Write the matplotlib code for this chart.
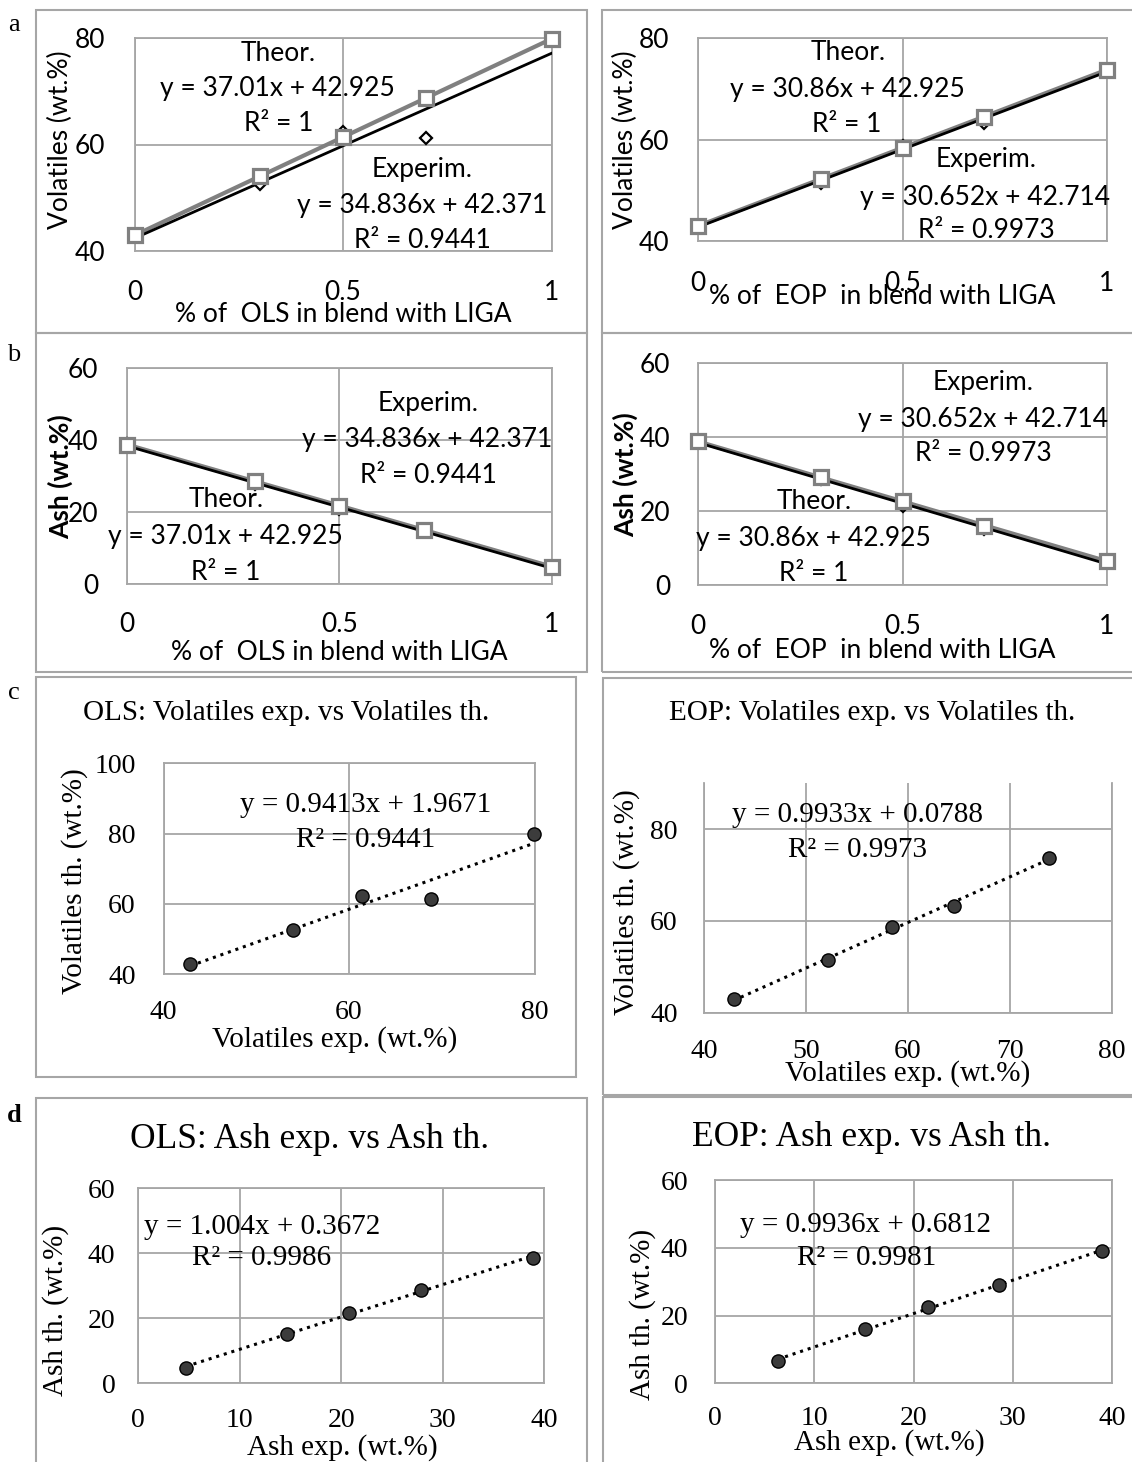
import numpy as np
import matplotlib
matplotlib.use("Agg")
import matplotlib.pyplot as plt
from matplotlib.patches import Rectangle

# blend fraction of OLS / EOP mixed into LIGA
blend = [0, 0.3, 0.5, 0.7, 1]

# volatiles (wt.%): theoretical (squares) and experimental (diamonds)
ols_vol_theor = [42.9, 54.0, 61.4, 68.8, 79.9]
ols_vol_exper = [42.9, 52.5, 62.3, 61.3, 79.8]
eop_vol_theor = [42.9, 52.2, 58.4, 64.5, 73.8]
eop_vol_exper = [42.9, 51.5, 58.7, 63.3, 73.8]

# ash (wt.%)
ols_ash_theor = [38.7, 28.7, 21.7, 15.1, 4.8]
ols_ash_exper = [38.9, 27.8, 20.8, 14.7, 4.7]
eop_ash_theor = [38.9, 29.1, 22.6, 16.1, 6.5]
eop_ash_exper = [39.0, 28.6, 21.5, 15.1, 6.3]

SANS = "Lato"
SERIF = "Liberation Serif"
GRID = "#a6a6a6"
LINEGREY = "#808080"
FS_SANS = 19      # text size in the blend panels
FS_SERIF = 21     # text size in the parity panels

W, H = 1132, 1462
fig = plt.figure(figsize=(W / 100, H / 100), dpi=100)


def px_axes(x0, x1, y0, y1):
    """axes placed by pixel box (y measured from the top)"""
    return fig.add_axes([x0 / W, 1 - y1 / H, (x1 - x0) / W, (y1 - y0) / H])


def frame(x0, y0, x1, y1):
    fig.add_artist(Rectangle((x0 / W, 1 - y1 / H), (x1 - x0) / W, (y1 - y0) / H,
                             transform=fig.transFigure, fill=False, ec=GRID, lw=1.5))


def ftext(x, y, s, **kw):
    fig.text(x / W, 1 - y / H, s, ha="center", va="center", **kw)


def style(ax, xlim, ylim, xticks, xlabels, yticks, family, size, xpad, ypad, top=True):
    ax.set_xlim(xlim)
    ax.set_ylim(ylim)
    ax.set_xticks(xticks)
    ax.set_xticklabels(xlabels, family=family, fontsize=size)
    ax.set_yticks(yticks)
    ax.set_yticklabels([str(t) for t in yticks], family=family, fontsize=size)
    ax.grid(color=GRID, lw=1.3)
    ax.set_axisbelow(True)
    for s in ax.spines.values():
        s.set_color(GRID)
        s.set_linewidth(1.3)
    ax.spines["top"].set_visible(top)
    ax.tick_params(axis="x", length=0, pad=xpad)
    ax.tick_params(axis="y", length=0, pad=ypad)


def blend_panel(ax, theor, exper):
    # straight-line trend for each series over the whole blend range
    xx = np.array([0.0, 1.0])
    pt = np.polyfit(blend, theor, 1)
    pe = np.polyfit(blend, exper, 1)
    ax.plot(xx, np.polyval(pt, xx), color=LINEGREY, lw=3.0, zorder=2)
    ax.plot(xx, np.polyval(pe, xx), color="black", lw=2.0, zorder=3)
    ax.plot(blend, exper, ls="none", marker="D", ms=6.5, mfc="white", mec="black",
            mew=1.6, zorder=4, clip_on=False)
    ax.plot(blend, theor, ls="none", marker="s", ms=10, mfc="white", mec=LINEGREY,
            mew=2.3, zorder=5, clip_on=False)


def scatter_panel(ax, x, y):
    p = np.polyfit(x, y, 1)
    xx = np.array([min(x), max(x)])
    ax.plot(xx, np.polyval(p, xx), color="black", lw=2.2, ls=(0, (1, 1.6)), zorder=3)
    ax.plot(x, y, ls="none", marker="o", ms=9.5, mfc="#3c3c3c", mec="black", mew=1,
            zorder=4, clip_on=False)


def eq(ax, x, y, s, family=SANS, size=FS_SANS):
    ax.text(x, y, s, ha="center", va="center", family=family, fontsize=size, zorder=6)


# panel borders
frame(36, 10, 587, 333)
frame(602, 10, 1145, 333)
frame(36, 333, 587, 672)
frame(602, 333, 1145, 672)
frame(36, 677, 576, 1077)
frame(603, 678, 1145, 1095)
frame(36, 1098, 587, 1475)
frame(603, 1097, 1145, 1475)

# panel letters
for lab, yy, wt in [("a", 25, "normal"), ("b", 355, "normal"),
                    ("c", 693, "normal"), ("d", 1115, "bold")]:
    ftext(14, yy, lab, family=SERIF, fontsize=19, fontweight=wt)

# ---- a: volatiles vs blend fraction
ax = px_axes(134.5, 551.6, 38.3, 250.7)
style(ax, (0, 1), (40, 80), [0, 0.5, 1], ["0", "0.5", "1"], [40, 60, 80], SANS, FS_SANS, 21, 21)
blend_panel(ax, ols_vol_theor, ols_vol_exper)
eq(ax, 0.345, 77.2, "Theor.")
eq(ax, 0.342, 70.6, "y = 37.01x + 42.925")
eq(ax, 0.345, 64.0, "R² = 1")
eq(ax, 0.689, 55.2, "Experim.")
eq(ax, 0.69, 48.6, "y = 34.836x + 42.371")
eq(ax, 0.69, 42.0, "R² = 0.9441")
ftext(343, 315, "% of  OLS in blend with LIGA", family=SANS, fontsize=FS_SANS)
ftext(60, 140, "Volatiles (wt.%)", family=SANS, fontsize=FS_SANS, rotation=90)

ax = px_axes(698, 1107, 38.3, 240.7)
style(ax, (0, 1), (40, 80), [0, 0.5, 1], ["0", "0.5", "1"], [40, 60, 80], SANS, FS_SANS, 22, 21)
blend_panel(ax, eop_vol_theor, eop_vol_exper)
eq(ax, 0.366, 77.1, "Theor.")
eq(ax, 0.364, 69.8, "y = 30.86x + 42.925")
eq(ax, 0.364, 62.9, "R² = 1")
eq(ax, 0.705, 56.0, "Experim.")
eq(ax, 0.703, 48.6, "y = 30.652x + 42.714")
eq(ax, 0.705, 42.1, "R² = 0.9973")
ftext(882, 297, "% of  EOP  in blend with LIGA", family=SANS, fontsize=FS_SANS)
ftext(625, 140, "Volatiles (wt.%)", family=SANS, fontsize=FS_SANS, rotation=90)

# ---- b: ash vs blend fraction
ax = px_axes(127.3, 551.6, 368.3, 584)
style(ax, (0, 1), (0, 60), [0, 0.5, 1], ["0", "0.5", "1"], [0, 20, 40, 60], SANS, FS_SANS, 20.5, 21)
blend_panel(ax, ols_ash_theor, ols_ash_exper)
eq(ax, 0.709, 50.3, "Experim.")
eq(ax, 0.707, 40.1, "y = 34.836x + 42.371")
eq(ax, 0.709, 30.3, "R² = 0.9441")
eq(ax, 0.233, 23.4, "Theor.")
eq(ax, 0.231, 13.1, "y = 37.01x + 42.925")
eq(ax, 0.233, 3.1, "R² = 1")
ftext(339, 652, "% of  OLS in blend with LIGA", family=SANS, fontsize=FS_SANS)
ftext(60, 477, "Ash (wt.%)", family=SANS, fontsize=FS_SANS, rotation=90, fontweight="bold")

ax = px_axes(698, 1107, 363.3, 585)
style(ax, (0, 1), (0, 60), [0, 0.5, 1], ["0", "0.5", "1"], [0, 20, 40, 60], SANS, FS_SANS, 21, 20)
blend_panel(ax, eop_ash_theor, eop_ash_exper)
eq(ax, 0.697, 54.7, "Experim.")
eq(ax, 0.697, 44.7, "y = 30.652x + 42.714")
eq(ax, 0.697, 35.7, "R² = 0.9973")
eq(ax, 0.284, 22.5, "Theor.")
eq(ax, 0.283, 12.7, "y = 30.86x + 42.925")
eq(ax, 0.283, 3.2, "R² = 1")
ftext(882, 650, "% of  EOP  in blend with LIGA", family=SANS, fontsize=FS_SANS)
ftext(625, 475, "Ash (wt.%)", family=SANS, fontsize=FS_SANS, rotation=90, fontweight="bold")

# ---- c: volatiles, parity plots
ax = px_axes(163.6, 534.5, 763.3, 974)
style(ax, (40, 80), (40, 100), [40, 60, 80], ["40", "60", "80"], [40, 60, 80, 100],
      SERIF, 20, 19, 20)
scatter_panel(ax, ols_vol_theor, ols_vol_exper)
eq(ax, 61.8, 88.1, "y = 0.9413x + 1.9671", SERIF, FS_SERIF)
eq(ax, 61.8, 78.2, "R² = 0.9441", SERIF, FS_SERIF)
ftext(286, 713, "OLS: Volatiles exp. vs Volatiles th.", family=SERIF, fontsize=FS_SERIF)
ftext(335, 1040, "Volatiles exp. (wt.%)", family=SERIF, fontsize=FS_SERIF)
ftext(75, 881, "Volatiles th. (wt.%)", family=SERIF, fontsize=FS_SERIF, rotation=90)

ax = px_axes(704, 1112, 783.3, 1012.7)
style(ax, (40, 80), (40, 90), [40, 50, 60, 70, 80], ["40", "50", "60", "70", "80"],
      [40, 60, 80], SERIF, 20, 19, 19, top=False)
scatter_panel(ax, eop_vol_theor, eop_vol_exper)
eq(ax, 55.0, 83.1, "y = 0.9933x + 0.0788", SERIF, FS_SERIF)
eq(ax, 55.0, 75.5, "R² = 0.9973", SERIF, FS_SERIF)
ftext(872, 713, "EOP: Volatiles exp. vs Volatiles th.", family=SERIF, fontsize=FS_SERIF)
ftext(908, 1074, "Volatiles exp. (wt.%)", family=SERIF, fontsize=FS_SERIF)
ftext(627, 902, "Volatiles th. (wt.%)", family=SERIF, fontsize=FS_SERIF, rotation=90)

# ---- d: ash, parity plots
ax = px_axes(138.2, 544.4, 1188.3, 1383.3)
style(ax, (0, 40), (0, 60), [0, 10, 20, 30, 40], ["0", "10", "20", "30", "40"],
      [0, 20, 40, 60], SERIF, 20, 18, 16.5)
scatter_panel(ax, ols_ash_exper, ols_ash_theor)
eq(ax, 12.2, 48.2, "y = 1.004x + 0.3672", SERIF, FS_SERIF)
eq(ax, 12.1, 38.5, "R² = 0.9986", SERIF, FS_SERIF)
ftext(310, 1140, "OLS: Ash exp. vs Ash th.", family=SERIF, fontsize=25.5)
ftext(342, 1448, "Ash exp. (wt.%)", family=SERIF, fontsize=FS_SERIF)
ftext(56, 1310, "Ash th. (wt.%)", family=SERIF, fontsize=FS_SERIF, rotation=90)

ax = px_axes(715, 1112, 1180, 1383.3)
style(ax, (0, 40), (0, 60), [0, 10, 20, 30, 40], ["0", "10", "20", "30", "40"],
      [0, 20, 40, 60], SERIF, 20, 16, 19.5)
scatter_panel(ax, eop_ash_exper, eop_ash_theor)
eq(ax, 15.2, 46.7, "y = 0.9936x + 0.6812", SERIF, FS_SERIF)
eq(ax, 15.3, 37.0, "R² = 0.9981", SERIF, FS_SERIF)
ftext(872, 1138, "EOP: Ash exp. vs Ash th.", family=SERIF, fontsize=25.5)
ftext(889, 1443, "Ash exp. (wt.%)", family=SERIF, fontsize=FS_SERIF)
ftext(643, 1314, "Ash th. (wt.%)", family=SERIF, fontsize=FS_SERIF, rotation=90)

fig.savefig("out.png", dpi=100)
